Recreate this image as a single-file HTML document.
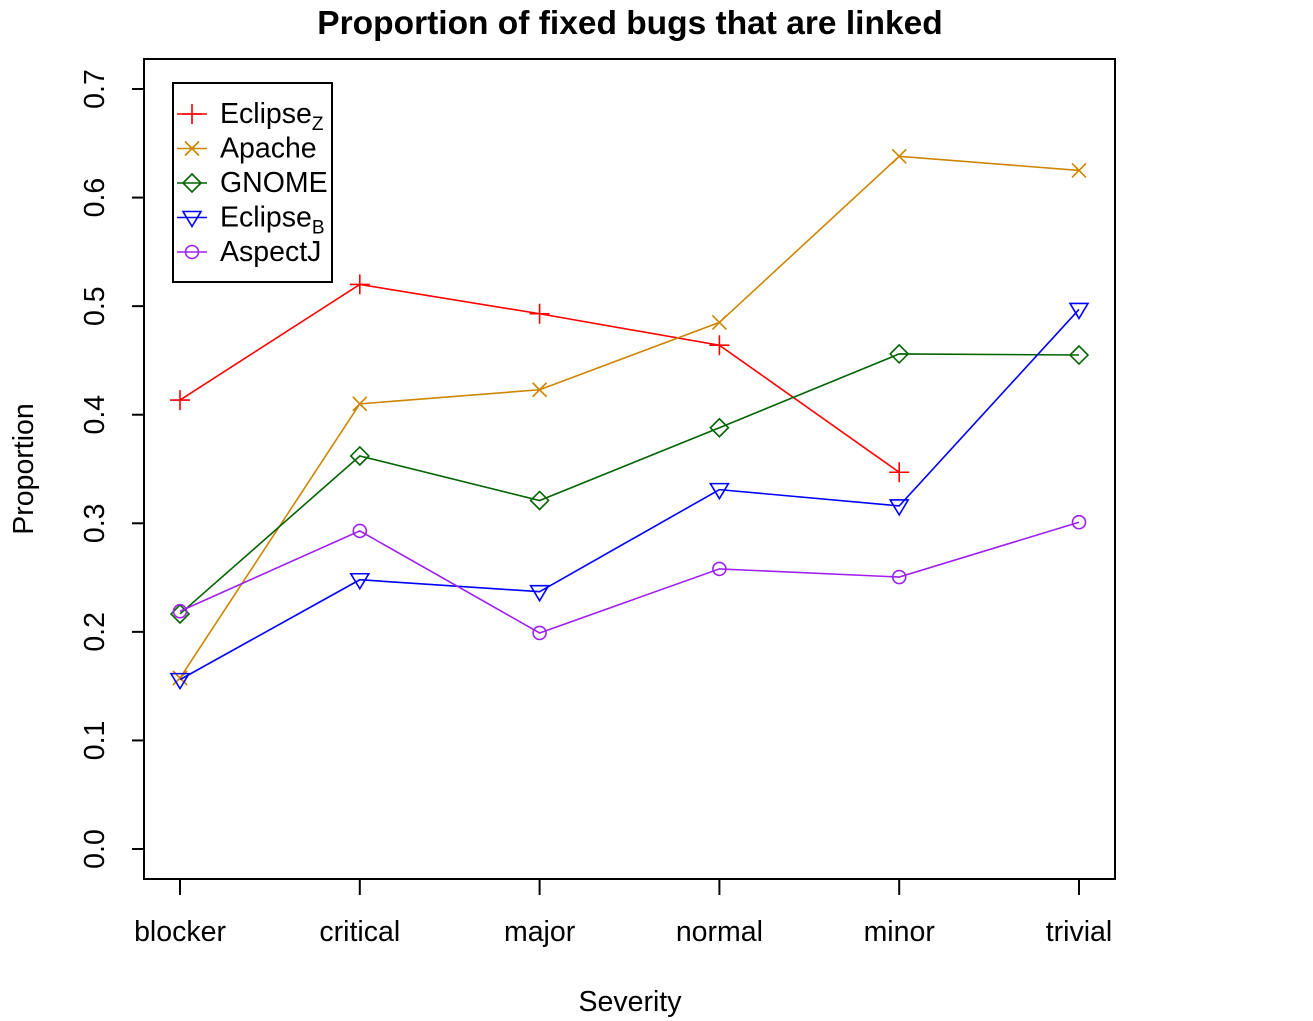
<!DOCTYPE html>
<html><head><meta charset="utf-8"><style>body{margin:0;background:#fff}svg{display:block}text{font-family:"Liberation Sans",Arial,sans-serif}</style></head>
<body>
<svg id="chart" width="1313" height="1021" viewBox="0 0 1313 1021" xmlns="http://www.w3.org/2000/svg"></svg>
<script>
const categories=["blocker","critical","major","normal","minor","trivial"];
const yTicks=[0,0.1,0.2,0.3,0.4,0.5,0.6,0.7];
const eclipseZ=[0.4135,0.520,0.493,0.464,0.347,null];
const apache=[0.1575,0.41,0.423,0.485,0.638,0.625];
const gnome=[0.2165,0.362,0.321,0.388,0.456,0.455];
const eclipseB=[0.156,0.248,0.237,0.331,0.316,0.497];
const aspectJ=[0.219,0.293,0.199,0.258,0.2505,0.301];
const series=[
 {name:"eclipse-z",data:eclipseZ,color:"#ff0000",sym:"plus",label:"Eclipse",sub:"Z"},
 {name:"apache",data:apache,color:"#cd8500",sym:"cross",label:"Apache"},
 {name:"gnome",data:gnome,color:"#006400",sym:"diamond",label:"GNOME"},
 {name:"eclipse-b",data:eclipseB,color:"#0000ff",sym:"tri",label:"Eclipse",sub:"B"},
 {name:"aspectj",data:aspectJ,color:"#a020f0",sym:"circle",label:"AspectJ"}];
const svg=document.getElementById('chart');const NS="http://www.w3.org/2000/svg";
function mk(t,a,p){const e=document.createElementNS(NS,t);for(const k in a)e.setAttribute(k,a[k]);(p||svg).appendChild(e);return e;}
const x=i=>180+i*179.8;const y=v=>849-v*1085.7;
let e;
e=mk('text',{x:630,y:34,'text-anchor':'middle','font-size':33.5,'font-weight':'bold'});e.textContent="Proportion of fixed bugs that are linked";

e=mk('rect',{x:144,y:59,width:971,height:820,fill:'none',stroke:'#000','stroke-width':2});

yTicks.forEach(v=>{mk('line',{x1:132,x2:144,y1:y(v),y2:y(v),stroke:'#000','stroke-width':2});
 e=mk('text',{x:0,y:0,'text-anchor':'middle','font-size':28.5,transform:`translate(104,${y(v)}) rotate(-90)`});e.textContent=v.toFixed(1);
 });
categories.forEach((c,i)=>{mk('line',{x1:x(i),x2:x(i),y1:879,y2:895,stroke:'#000','stroke-width':2});
 e=mk('text',{x:x(i),y:941,'text-anchor':'middle','font-size':28.5});e.textContent=c;
 });
e=mk('text',{x:630,y:1011,'text-anchor':'middle','font-size':28.5});e.textContent="Severity";

e=mk('text',{x:0,y:0,'text-anchor':'middle','font-size':28.5,transform:'translate(33,469) rotate(-90)'});e.textContent="Proportion";

function sym(g,s,cx,cy,c){const a={fill:'none',stroke:c,'stroke-width':1.6};
 if(s=='plus'){mk('path',Object.assign({d:`M${cx-10} ${cy}H${cx+10}M${cx} ${cy-10}V${cy+10}`},a),g);}
 else if(s=='cross'){mk('path',Object.assign({d:`M${cx-7} ${cy-7}L${cx+7} ${cy+7}M${cx-7} ${cy+7}L${cx+7} ${cy-7}`},a),g);}
 else if(s=='diamond'){mk('path',Object.assign({d:`M${cx} ${cy-9}L${cx+9} ${cy}L${cx} ${cy+9}L${cx-9} ${cy}Z`},a),g);}
 else if(s=='tri'){mk('path',Object.assign({d:`M${cx-9} ${cy-6}L${cx+9} ${cy-6}L${cx} ${cy+9}Z`},a),g);}
 else mk('circle',Object.assign({cx,cy,r:6.5},a),g);}
series.forEach(s=>{const g=mk('g',{});
 let d='';s.data.forEach((v,i)=>{if(v==null)return;d+=(d?'L':'M')+x(i)+' '+y(v);});
 mk('path',{d,fill:'none',stroke:s.color,'stroke-width':1.6},g);
 s.data.forEach((v,i)=>{if(v!=null)sym(g,s.sym,x(i),y(v),s.color);});});
const lg=mk('g',{});
mk('rect',{x:173,y:83,width:159,height:199,fill:'#fff',stroke:'#000','stroke-width':2},lg);
series.forEach((s,k)=>{const yy=114+k*34.5;const g=mk('g',{},lg);
 mk('line',{x1:177,x2:207,y1:yy,y2:yy,stroke:s.color,'stroke-width':1.6},g);sym(g,s.sym,192,yy,s.color);
 const t=mk('text',{x:220,y:yy+9,'font-size':28.5},g);t.textContent=s.label;
 if(s.sub){const ts=mk('tspan',{'font-size':19,dy:7},t);ts.textContent=s.sub;}});
</script>
</body></html>
